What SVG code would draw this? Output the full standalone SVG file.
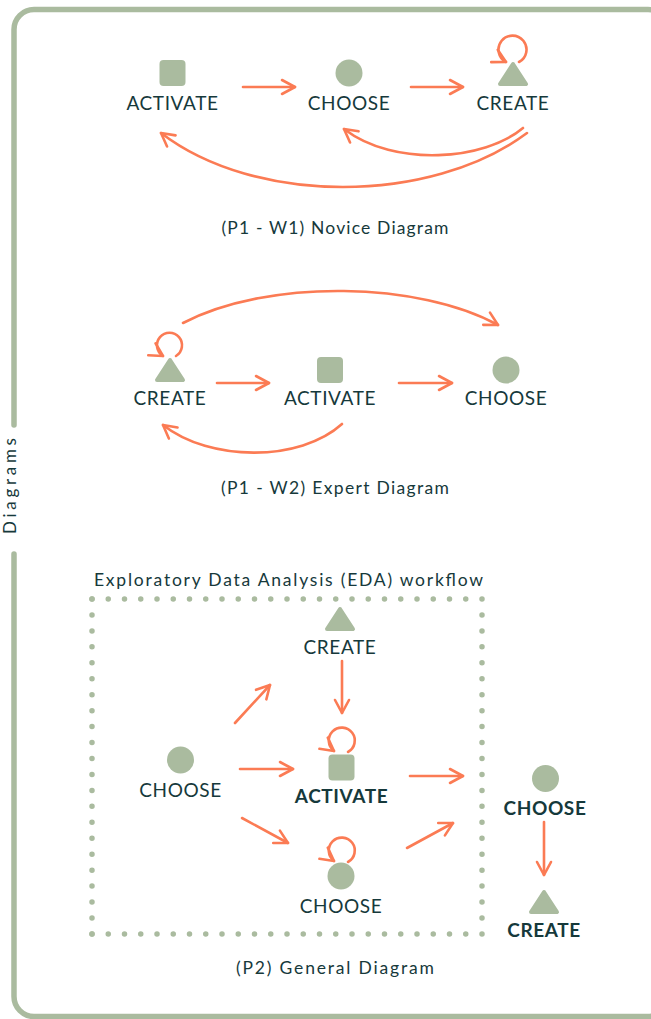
<svg xmlns="http://www.w3.org/2000/svg" width="651" height="1019" viewBox="0 0 651 1019">
  <defs>
    <style>
      .frame { fill: none; stroke: #aabb9f; stroke-width: 5.5; stroke-linecap: round; }
      .dots { fill: none; stroke: #aabb9f; stroke-width: 5.5; stroke-linecap: round; }
      .shape { fill: #aabb9f; }
      .tri { fill: #aabb9f; stroke: #aabb9f; stroke-width: 4; stroke-linejoin: round; }
      .edge { fill: none; stroke: #fb7b54; stroke-width: 2.6; stroke-linecap: round; marker-end: url(#head); }
      .lbl { font-family: Lato, "Noto Sans", sans-serif; font-size: 19px; fill: #16393b; text-anchor: middle; letter-spacing: 0.6px; }
      .lbl.b { font-weight: bold; }
      .cap { font-family: Lato, "Noto Sans", sans-serif; font-size: 17.5px; fill: #16393b; text-anchor: middle; }
    </style>
    <marker id="head" viewBox="-15 -9 18 18" refX="0" refY="0" markerWidth="18" markerHeight="18" markerUnits="userSpaceOnUse" orient="auto">
      <path d="M-13,-7 L0,0 L-13,7" fill="none" stroke="#fb7b54" stroke-width="2.6" stroke-linecap="round" stroke-linejoin="round"/>
    </marker>
    <!-- node glyphs, origin at centre (triangle: bottom centre) -->
    <rect id="sq" x="-13" y="-13" width="26" height="26" rx="4"/>
    <circle id="ci" r="13.5"/>
    <path id="tr" d="M0,-22 L13,-2 L-13,-2 Z"/>
  </defs>

  <!-- outer frame with gap for side label -->
  <path class="frame" d="M14,425 L14,29.5 A20,20 0 0 1 34,9.5 L648,9.5 A20,20 0 0 1 668,29.5 L668,996.5 A20,20 0 0 1 648,1016.5 L34,1016.5 A20,20 0 0 1 14,996.5 L14,554"/>
  <text class="cap" style="font-size:17px" transform="translate(16,486) rotate(-90)" textLength="96">Diagrams</text>

  <!-- Novice diagram -->
  <g id="n1-activate">
    <use href="#sq" class="shape" x="172.5" y="73"/>
    <text class="lbl" x="172.5" y="110">ACTIVATE</text>
  </g>
  <g id="n1-choose">
    <use href="#ci" class="shape" x="349" y="73"/>
    <text class="lbl" x="349" y="110">CHOOSE</text>
  </g>
  <g id="n1-create">
    <use href="#tr" class="tri" x="513" y="86"/>
    <text class="lbl" x="513" y="110">CREATE</text>
  </g>
  <text class="cap" x="335" y="234" textLength="227">(P1 - W1) Novice Diagram</text>

  <!-- Expert diagram -->
  <g id="n2-create">
    <use href="#tr" class="tri" x="170" y="382"/>
    <text class="lbl" x="170" y="405">CREATE</text>
  </g>
  <g id="n2-activate">
    <use href="#sq" class="shape" x="330" y="370"/>
    <text class="lbl" x="330" y="405">ACTIVATE</text>
  </g>
  <g id="n2-choose">
    <use href="#ci" class="shape" x="506" y="370"/>
    <text class="lbl" x="506" y="405">CHOOSE</text>
  </g>
  <text class="cap" x="335" y="494" textLength="228">(P1 - W2) Expert Diagram</text>

  <!-- General diagram -->
  <text class="cap" x="288.5" y="586" textLength="389">Exploratory Data Analysis (EDA) workflow</text>
  <g id="eda-box">
    <line class="dots" x1="92" y1="599" x2="482" y2="599" stroke-dasharray="0 16.25"/>
    <line class="dots" x1="92" y1="934" x2="482" y2="934" stroke-dasharray="0 16.25"/>
    <line class="dots" x1="92" y1="599" x2="92" y2="934" stroke-dasharray="0 15.95"/>
    <line class="dots" x1="482" y1="599" x2="482" y2="934" stroke-dasharray="0 15.95"/>
  </g>
  <g id="n3-create">
    <use href="#tr" class="tri" x="340" y="631"/>
    <text class="lbl" x="340" y="654">CREATE</text>
  </g>
  <g id="n3-choose">
    <use href="#ci" class="shape" x="180.5" y="760"/>
    <text class="lbl" x="180.5" y="797">CHOOSE</text>
  </g>
  <g id="n3-activate">
    <use href="#sq" class="shape" x="341.5" y="767.5"/>
    <text class="lbl b" x="341.5" y="803">ACTIVATE</text>
  </g>
  <g id="n3-choose2">
    <use href="#ci" class="shape" x="341" y="876"/>
    <text class="lbl" x="341" y="913">CHOOSE</text>
  </g>
  <g id="n3-choose3">
    <use href="#ci" class="shape" x="545.5" y="778.5"/>
    <text class="lbl b" x="545" y="815">CHOOSE</text>
  </g>
  <g id="n3-create2">
    <use href="#tr" class="tri" x="544" y="914"/>
    <text class="lbl b" x="544" y="937">CREATE</text>
  </g>
  <text class="cap" x="335" y="974" textLength="198">(P2) General Diagram</text>

  <!-- connectors -->
  <g id="connectors">
    <!-- novice -->
    <path class="edge" d="M243,87 L295,87"/>
    <path class="edge" d="M411,87 L463,87"/>
    <path class="edge" d="M519,62 A14,14 0 1 0 506,62"/>
    <path class="edge" d="M523,128 C485,160 395,168 344,129"/>
    <path class="edge" d="M527,133 C430,205 255,205 161,133"/>
    <!-- expert -->
    <path class="edge" d="M183,323 C270,278 420,282 498,325"/>
    <path class="edge" d="M176,356 A12.5,12.5 0 1 0 163,356"/>
    <path class="edge" d="M217,383 L269,383"/>
    <path class="edge" d="M399,383 L452,383"/>
    <path class="edge" d="M342,424 C300,462 210,462 163,425"/>
    <!-- general -->
    <path class="edge" d="M342,661 L342,713"/>
    <path class="edge" d="M235,723 L270,685"/>
    <path class="edge" d="M240,769 L293,769"/>
    <path class="edge" d="M242,818 L288,843"/>
    <path class="edge" d="M348,752 A13,13 0 1 0 334,751"/>
    <path class="edge" d="M348,862 A13,13 0 1 0 334,861"/>
    <path class="edge" d="M410,776 L463,776"/>
    <path class="edge" d="M407,848 L453,823"/>
    <path class="edge" d="M544,822 L544,875"/>
  </g>
</svg>
